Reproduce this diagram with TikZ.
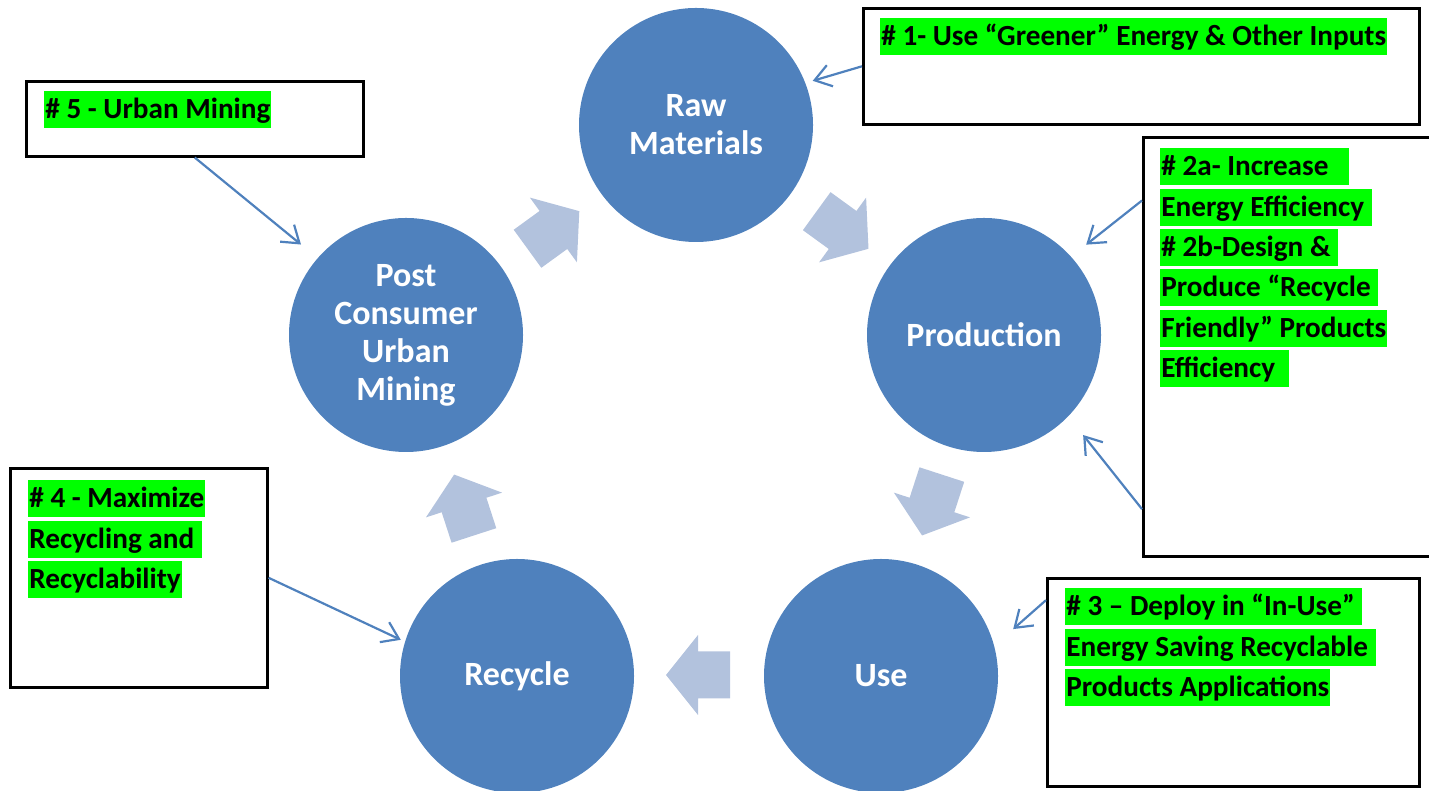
\documentclass[tikz,border=0pt]{standalone}
\usepackage{fontspec}
\setmainfont{Carlito}
\usepackage{tikz}
\usetikzlibrary{positioning,arrows.meta,calc}
\definecolor{stageblue}{RGB}{79,129,189}
\definecolor{flowblue}{RGB}{178,194,221}
\definecolor{hlgreen}{RGB}{0,255,0}
\setlength{\fboxsep}{0.5pt}
\newcommand{\hilite}[1]{\colorbox{hlgreen}{\rule[-4.2pt]{0pt}{17.5pt}#1}}
\tikzset{
    stage/.style={circle, fill=stageblue, minimum size=117pt, inner sep=0pt, align=center, text=white, font=\fontsize{17}{19}\selectfont\bfseries},
    note/.style={draw=black, line width=1.3pt, anchor=north west, inner sep=0pt},
    notetext/.style={anchor=north west, inner sep=0pt, align=left, font=\fontsize{14.6}{20.15}\selectfont\bfseries},
    link/.style={draw=stageblue, line width=1.1pt, -{Straight Barb[length=8pt,width=11pt]}},
    flowarrow/.pic={\fill[flowblue] (-32,-23.5) -- (0,-23.5) -- (0,-40) -- (32,0) -- (0,40) -- (0,23.5) -- (-32,23.5) -- cycle;}
}
\begin{document}
\begin{tikzpicture}[x=0.5pt,y=0.5pt]
\useasboundingbox (0,0) rectangle (1429,791);
\coordinate (hub) at (698,362);
\node[stage] (raw) at (696,666) {Raw\\Materials};
\node[stage] (prod) at (984,456) {Production};
\node[stage] (use) at (881,115) {Use};
\node[stage] (recyc) at (517,115) {Recycle};
\node[stage] (post) at (406,456) {Post\\Consumer\\Urban\\Mining};
\foreach \a in {126,54,-18,-90,-162}
    \pic[rotate=\a-90] at ($(hub)+(\a:246)$) {flowarrow};
\node[note, minimum width=278pt, minimum height=58pt] (box1) at (862,784) {};
\node[note, minimum width=168.5pt, minimum height=37.5pt] (box5) at (25,711) {};
\node[note, minimum width=150pt, minimum height=209.5pt] (box2) at (1142,655) {};
\node[note, minimum width=128.5pt, minimum height=109.5pt] (box4) at (9,324) {};
\node[note, minimum width=186pt, minimum height=104pt] (box3) at (1046,214) {};
\node[notetext] (txt1) at ($(box1.north west)+(18,-11)$) {\hilite{\# 1- Use “Greener” Energy \& Other Inputs}};
\node[notetext] (txt5) at ($(box5.north west)+(19,-11)$) {\hilite{\# 5 - Urban Mining}};
\node[notetext] (txt2) at ($(box2.north west)+(18,-12)$) {\hilite{\# 2a- Increase\ \ \ }\\\hilite{Energy Efficiency\ }\\\hilite{\# 2b-Design \&\ }\\\hilite{Produce “Recycle\ }\\\hilite{Friendly” Products}\\\hilite{Efficiency\ \ }};
\node[notetext] (txt4) at ($(box4.north west)+(19,-13)$) {\hilite{\# 4 - Maximize}\\\hilite{Recycling and\ }\\\hilite{Recyclability}};
\node[notetext] (txt3) at ($(box3.north west)+(19,-11)$) {\hilite{\# 3 – Deploy in “In-Use”\ }\\\hilite{Energy Saving Recyclable\ }\\\hilite{Products Applications}};
\draw[link, shorten >=3.7pt] (box1.west) -- (raw.21);
\draw[link, shorten >=10.6pt] (box5.south) -- (post.139);
\draw[link, shorten >=9.5pt] ($(box2.north west)!0.153!(box2.south west)$) -- (prod.42);
\draw[link, shorten >=11.8pt] ($(box2.north west)!0.885!(box2.south west)$) -- (prod.-44);
\draw[link, shorten >=12.5pt] ($(box3.north west)!0.11!(box3.south west)$) -- (use.15.5);
\draw[link, shorten >=2.2pt] (box4.east) -- (recyc.163);
\end{tikzpicture}
\end{document}
